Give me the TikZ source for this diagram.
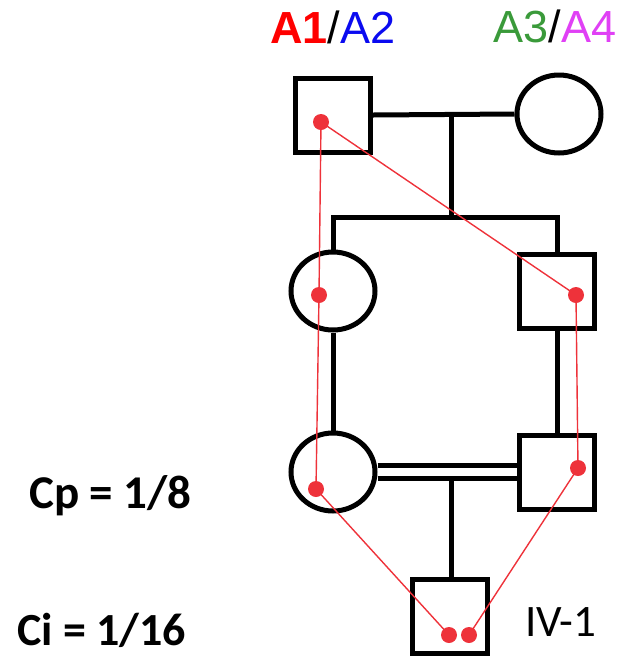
\documentclass[tikz,border=0pt]{standalone}
\usepackage{fontspec}
\setmainfont{Liberation Sans}
\newfontfamily\calfont{Carlito}
\usetikzlibrary{shapes.geometric}
\definecolor{allelered}{RGB}{238,50,58}
\definecolor{aonered}{RGB}{255,0,0}
\definecolor{atwoblue}{RGB}{10,10,240}
\definecolor{athreegreen}{RGB}{58,154,58}
\definecolor{afourpink}{RGB}{224,64,245}
\tikzset{
  male/.style={draw,line width=5pt,rectangle,inner sep=0pt,minimum width=75pt,minimum height=74pt},
  female/.style={draw,line width=5pt,ellipse,inner sep=0pt,minimum width=84pt,minimum height=78pt},
  bond/.style={line width=5pt},
  allele/.style={draw=allelered,line width=1.4pt},
  dot/.style={circle,fill=allelered,inner sep=0pt,minimum size=16pt},
}

\begin{document}
\begin{tikzpicture}[x=1pt,y=-1pt]
\useasboundingbox (0,0) rectangle (621,657);
\node[male] (p1) at (333,115) {};
\node[female] (p2) at (559,114) {};
\node[female] (f2) at (333,291) {};
\node[male] (m2) at (557,291) {};
\node[female] (f3) at (333,472) {};
\node[male] (m3) at (557,472) {};
\node[male] (iv1) at (450,616) {};
\coordinate (k1) at (451,114);
\coordinate (s1) at (451,217);
\coordinate (k2) at (451,478.5);
\draw[bond] (p1.east) -- (p2.west);
\draw[bond] (k1) -- (s1);
\draw[bond,line join=miter] (f2.north) |- (s1) -| (m2.north);
\draw[bond] (f2.south) -- (f3.north);
\draw[bond] (m2.south) -- (m3.north);
\draw[line width=4.2pt] ([yshift=6.5pt]f3.east) -- ([yshift=6.5pt]m3.west);
\draw[line width=4.2pt] ([yshift=-6.5pt]f3.east) -- ([yshift=-6.5pt]m3.west);
\draw[bond] (k2) -- (k2 |- iv1.north);
\node[dot] (d1) at (321,122) {};
\node[dot] (d2) at (319,295) {};
\node[dot] (d3) at (316,489) {};
\node[dot] (d4) at (449,635) {};
\node[dot] (d5) at (469,635) {};
\node[dot] (d6) at (576,295) {};
\node[dot] (d7) at (578,468) {};
\draw[allele] (d1.center) -- (d2.center) -- (d3.center) -- (d4.center);
\draw[allele] (d1.center) -- (d6.center) -- (d7.center) -- (d5.center);
\node[anchor=base,font=\fontsize{45}{45}\selectfont,inner sep=0pt] (lab1) at (333,43)
  {\textcolor{aonered}{\bfseries A1}/\textcolor{atwoblue}{A2}};
\node[anchor=base,font=\fontsize{45}{45}\selectfont,inner sep=0pt] (lab2) at (555,42)
  {\textcolor{athreegreen}{A3}/\textcolor{afourpink}{A4}};
\node[anchor=base west,font=\calfont\bfseries\fontsize{47}{47}\selectfont,inner sep=0pt] (cp) at (29,508) {Cp = 1/8};
\node[anchor=base west,font=\calfont\bfseries\fontsize{46}{46}\selectfont,inner sep=0pt] (ci) at (17,645) {Ci = 1/16};
\node[anchor=base west,font=\calfont\fontsize{45}{45}\selectfont,inner sep=0pt] (ivlab) at (525,636) {IV-1};
\end{tikzpicture}
\end{document}
